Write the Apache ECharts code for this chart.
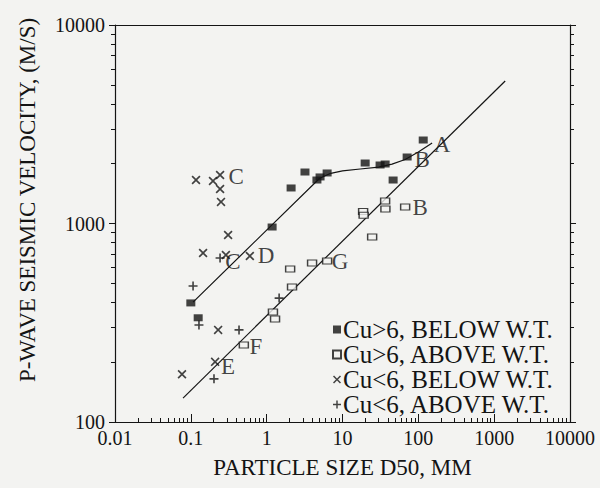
<!DOCTYPE html>
<html>
<head>
<meta charset="utf-8">
<script src="https://cdn.jsdelivr.net/npm/echarts@6/dist/echarts.min.js"></script>
<style>
  html, body { margin: 0; padding: 0; background: #f3f3f1; }
  #chart { width: 600px; height: 488px; }
</style>
</head>
<body>
<div id="chart"></div>
<script>
// tick labels
const xTickValues = [0.01, 0.1, 1, 10, 100, 1000, 10000]
const xTickLabels = ['0.01', '0.1', '1', '10', '100', '1000', '10000']
const yTickValues = [100, 1000, 10000]
const yTickLabels = ['100', '1000', '10000']

// Cu>6, below water table (filled squares)
const cuGt6BelowX = [0.10, 0.125, 1.18, 2.1, 3.2, 4.6, 5.06, 6.27, 19.9, 31.3, 36.5, 46.5, 71.2, 116]
const cuGt6BelowY = [398, 335, 960, 1510, 1817, 1656, 1716, 1797, 2017, 1971, 1994, 1656, 2163, 2634]

// Cu>6, above water table (open squares)
const cuGt6AboveX = [0.50, 1.21, 1.29, 2.04, 2.16, 3.97, 6.27, 18.7, 19.0, 36.5, 36.8, 67, 24.6]
const cuGt6AboveY = [244, 358, 330, 590, 479, 632, 647, 1150, 1100, 1298, 1183, 1211, 855]

// Cu<6, below water table (crosses)
const cuLt6BelowX = [0.117, 0.196, 0.243, 0.243, 0.25, 0.31, 0.145, 0.29, 0.60, 0.229, 0.209, 0.0765]
const cuLt6BelowY = [1656, 1637, 1755, 1492, 1284, 875, 710, 694, 686, 291, 201, 174]

// Cu<6, above water table (plus signs)
const cuLt6AboveX = [0.107, 0.128, 0.243, 0.432, 0.202, 1.46]
const cuLt6AboveY = [484, 308, 670, 291, 165, 421]

// trend lines
const trendBelowX = [0.107, 5.0, 7, 10, 17.1, 30, 45, 67, 100, 152]
const trendBelowY = [402, 1690, 1790, 1840, 1882, 1925, 1990, 2100, 2290, 2545]
const trendAboveX = [0.0789, 1397]
const trendAboveY = [132, 5224]

// letter annotations
const letterText = ['A', 'B', 'B', 'C', 'C', 'D', 'E', 'F', 'G']
const letterX = [206, 112, 106, 0.395, 0.36, 0.98, 0.31, 0.72, 9.3]
const letterY = [2486, 2089, 1197, 1716, 647, 686, 191, 241, 640]

const FONT = '"Liberation Serif", "DejaVu Serif", serif'
const INK = '#141414'
const PAPER = '#f3f3f1'

const zip = (xs, ys) => xs.map((x, i) => [x, ys[i]])

// minor tick positions 2..9 of every decade
const minorTicks = (lo, hi) => {
  const out = []
  for (let d = lo; d < hi; d *= 10) {
    for (let k = 2; k <= 9; k++) out.push(+(d * k).toPrecision(6))
  }
  return out
}

const labelFor = (values, labels) => (v) => {
  const i = values.findIndex(t => Math.abs(Math.log10(t) - Math.log10(v)) < 1e-6)
  return i >= 0 ? labels[i] : ''
}

const crossPath = 'path://M0,1.3L1.3,0L5,3.7L8.7,0L10,1.3L6.3,5L10,8.7L8.7,10L5,6.3L1.3,10L0,8.7L3.7,5Z'
const plusPath = 'path://M4.1,0H5.9V4.1H10V5.9H5.9V10H4.1V5.9H0V4.1H4.1Z'

const baseX = {
  type: 'log', logBase: 10, min: 0.01, max: 10000,
  splitLine: { show: false }
}
const baseY = {
  type: 'log', logBase: 10, min: 100, max: 10000,
  splitLine: { show: false }
}
const line = { show: true, onZero: false, lineStyle: { color: INK, width: 1.2 } }

const chartInstance = echarts.init(document.getElementById('chart'), null, { renderer: 'svg' })

chartInstance.setOption({
  animation: false,
  backgroundColor: PAPER,
  textStyle: { fontFamily: FONT, color: INK },
  grid: { left: 115, right: 30, top: 25, bottom: 66 },
  xAxis: [
    {
      ...baseX,
      position: 'bottom',
      axisLine: line,
      axisTick: { show: true, inside: true, length: 8, customValues: xTickValues, lineStyle: { color: INK } },
      axisLabel: {
        customValues: xTickValues, formatter: labelFor(xTickValues, xTickLabels),
        fontFamily: FONT, fontSize: 20, color: INK, margin: 6
      },
      name: 'PARTICLE SIZE D50, MM',
      nameLocation: 'middle',
      nameGap: 34,
      nameTextStyle: { fontFamily: FONT, fontSize: 23, color: INK }
    },
    {
      ...baseX,
      position: 'bottom',
      axisLine: { show: false, onZero: false },
      axisTick: { show: true, inside: true, length: 4, customValues: minorTicks(0.01, 10000), lineStyle: { color: INK } },
      axisLabel: { show: false }
    },
    {
      ...baseX,
      position: 'top',
      axisLine: line,
      axisTick: { show: false },
      axisLabel: { show: false }
    }
  ],
  yAxis: [
    {
      ...baseY,
      position: 'left',
      axisLine: line,
      axisTick: { show: true, length: 6, customValues: yTickValues, lineStyle: { color: INK } },
      axisLabel: {
        customValues: yTickValues, formatter: labelFor(yTickValues, yTickLabels),
        fontFamily: FONT, fontSize: 20, color: INK, margin: 10
      }
    },
    {
      ...baseY,
      position: 'left',
      axisLine: { show: false, onZero: false },
      axisTick: { show: true, length: 4, customValues: minorTicks(100, 10000), lineStyle: { color: INK } },
      axisLabel: { show: false }
    },
    {
      ...baseY,
      position: 'right',
      axisLine: line,
      axisTick: { show: true, length: 6, customValues: yTickValues, lineStyle: { color: INK } },
      axisLabel: { show: false }
    },
    {
      ...baseY,
      position: 'right',
      axisLine: { show: false, onZero: false },
      axisTick: { show: true, length: 4, customValues: minorTicks(100, 10000), lineStyle: { color: INK } },
      axisLabel: { show: false }
    }
  ],
  legend: {
    data: ['Cu>6, BELOW W.T.', 'Cu>6, ABOVE W.T.', 'Cu<6, BELOW W.T.', 'Cu<6, ABOVE W.T.'],
    orient: 'vertical',
    left: 332,
    top: 317,
    itemGap: 0,
    itemWidth: 8,
    itemHeight: 8,
    padding: 0,
    textStyle: { fontFamily: FONT, fontSize: 25, lineHeight: 25, color: INK, padding: [0, 0, 0, -3] }
  },
  graphic: [
    {
      type: 'text',
      x: 27,
      y: 200,
      rotation: Math.PI / 2,
      style: {
        text: 'P-WAVE SEISMIC VELOCITY, (M/S)',
        font: '23px ' + FONT,
        fill: INK,
        align: 'center',
        verticalAlign: 'middle'
      }
    }
  ],
  tooltip: { show: false },
  series: [
    {
      type: 'line',
      data: zip(trendBelowX, trendBelowY),
      showSymbol: false,
      lineStyle: { color: INK, width: 1.2 },
      silent: true,
      z: 1
    },
    {
      type: 'line',
      data: zip(trendAboveX, trendAboveY),
      showSymbol: false,
      lineStyle: { color: INK, width: 1.2 },
      silent: true,
      z: 1
    },
    {
      name: 'Cu>6, BELOW W.T.',
      type: 'scatter',
      data: zip(cuGt6BelowX, cuGt6BelowY),
      symbol: 'rect',
      symbolSize: [9, 7],
      itemStyle: { color: INK },
      z: 3
    },
    {
      name: 'Cu>6, ABOVE W.T.',
      type: 'scatter',
      data: zip(cuGt6AboveX, cuGt6AboveY),
      symbol: 'rect',
      symbolSize: [9, 6],
      itemStyle: { color: PAPER, borderColor: INK, borderWidth: 1.2 },
      z: 3
    },
    {
      name: 'Cu<6, BELOW W.T.',
      type: 'scatter',
      data: zip(cuLt6BelowX, cuLt6BelowY),
      symbol: crossPath,
      symbolSize: 9,
      itemStyle: { color: INK },
      z: 3
    },
    {
      name: 'Cu<6, ABOVE W.T.',
      type: 'scatter',
      data: zip(cuLt6AboveX, cuLt6AboveY),
      symbol: plusPath,
      symbolSize: 9,
      itemStyle: { color: INK },
      z: 3
    },
    {
      type: 'scatter',
      data: letterX.map((x, i) => ({ name: letterText[i], value: [x, letterY[i]] })),
      symbolSize: 0,
      silent: true,
      label: {
        show: true,
        position: 'inside',
        formatter: (p) => p.name,
        fontFamily: FONT,
        fontSize: 23,
        color: INK
      },
      z: 4
    }
  ]
})
</script>
</body>
</html>
